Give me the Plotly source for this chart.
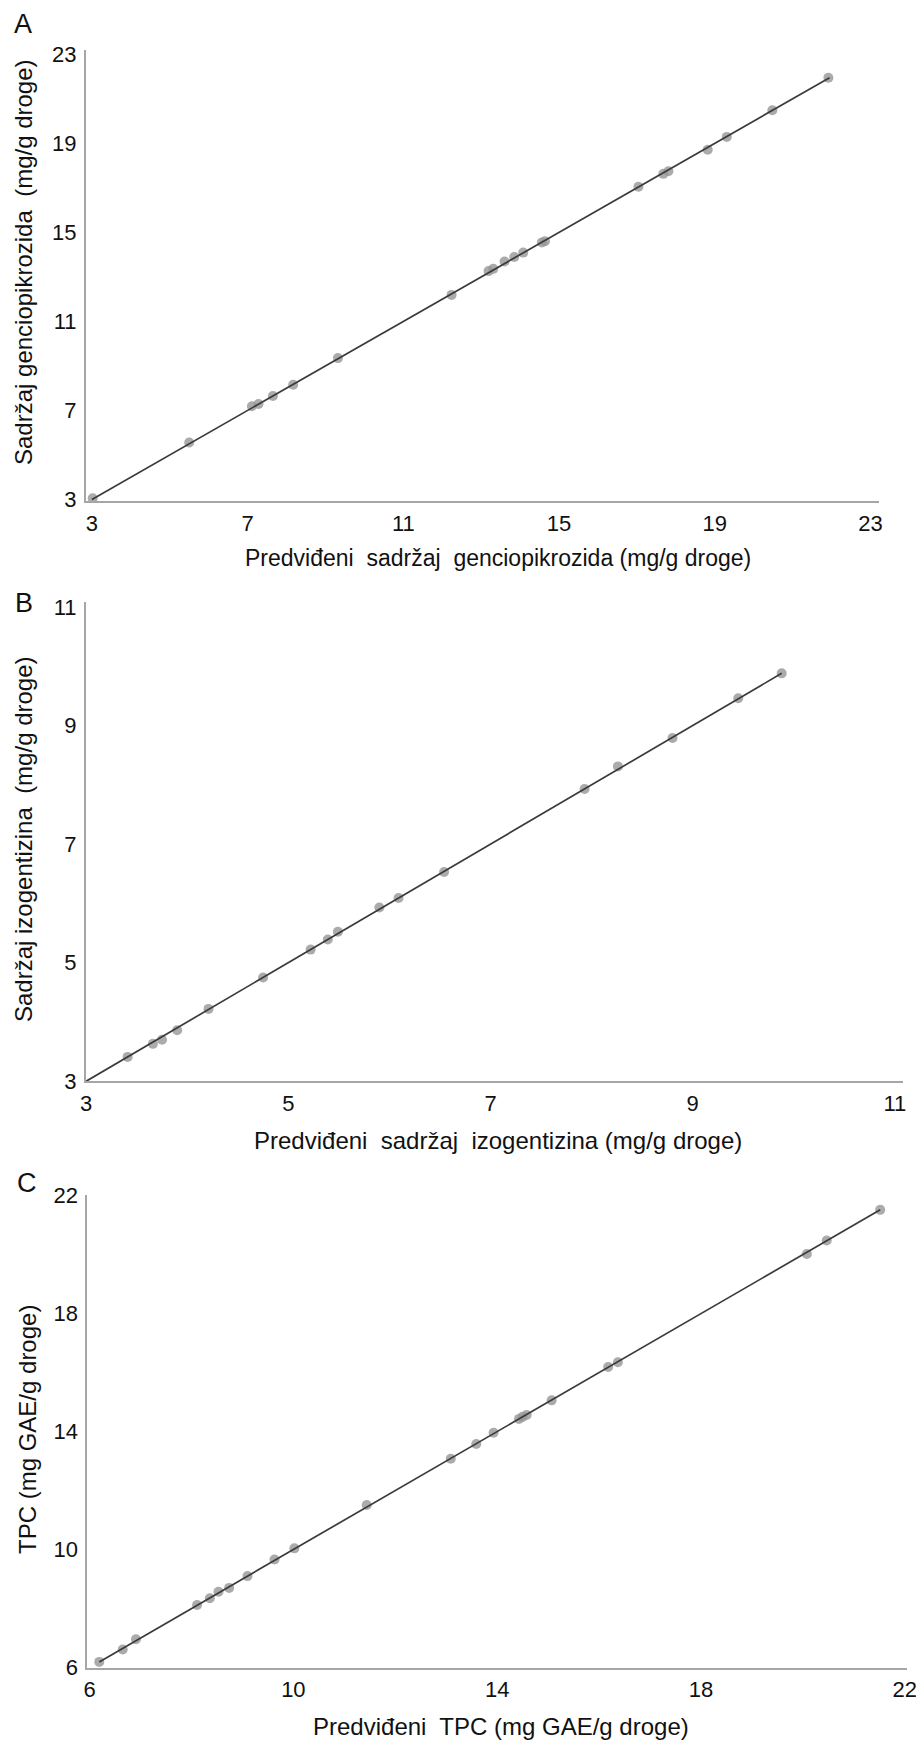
import plotly.graph_objects as go

# ---------------- data ----------------
A_pred = [3.02, 5.50, 7.11, 7.28, 7.65, 8.17, 9.32, 12.24, 13.19, 13.31, 13.60, 13.85, 14.08,
          14.56, 14.64, 17.04, 17.68, 17.81, 18.82, 19.31, 20.48, 21.92]
A_obs = [3.05, 5.56, 7.19, 7.29, 7.65, 8.15, 9.35, 12.19, 13.26, 13.36, 13.69, 13.89, 14.09,
         14.55, 14.60, 17.05, 17.63, 17.75, 18.71, 19.29, 20.49, 21.95]
A_fit = [3.0, 21.95]

B_pred = [3.41, 3.66, 3.75, 3.90, 4.21, 4.75, 5.22, 5.39, 5.49, 5.90, 6.09, 6.54, 7.93, 8.26,
          8.80, 9.45, 9.88]
B_obs = [3.41, 3.63, 3.70, 3.86, 4.22, 4.75, 5.22, 5.39, 5.52, 5.93, 6.09, 6.53, 7.93, 8.31,
         8.79, 9.46, 9.88]
B_fit = [3.0, 9.88]

C_pred = [6.19, 6.65, 6.91, 8.11, 8.36, 8.53, 8.74, 9.10, 9.63, 10.02, 11.44, 13.09, 13.59,
          13.93, 14.43, 14.50, 14.58, 15.07, 16.18, 16.37, 20.08, 20.47, 21.52]
C_obs = [6.19, 6.61, 6.96, 8.12, 8.35, 8.57, 8.70, 9.10, 9.66, 10.04, 11.51, 13.08, 13.58,
         13.96, 14.43, 14.50, 14.56, 15.06, 16.19, 16.35, 20.02, 20.48, 21.52]
C_fit = [6.19, 21.52]

A_ticks = [3, 7, 11, 15, 19, 23]
B_ticks = [3, 5, 7, 9, 11]
C_ticks = [6, 10, 14, 18, 22]

panel_letters = ["A", "B", "C"]
x_titles = ["Predviđeni\u00a0 sadržaj\u00a0 genciopikrozida (mg/g droge)",
            "Predviđeni\u00a0 sadržaj\u00a0 izogentizina (mg/g droge)",
            "Predviđeni\u00a0 TPC (mg GAE/g droge)"]
y_titles = ["Sadržaj genciopikrozida\u00a0 (mg/g droge)",
            "Sadržaj izogentizina\u00a0 (mg/g droge)",
            "TPC (mg GAE/g droge)"]

# ---------------- layout geometry ----------------
W, H = 916, 1740
FONT = "Liberation Sans, Arial, sans-serif"

def px(x):
    return x / W

def py(y):
    return 1 - y / H

panels = [
    dict(pred=A_pred, obs=A_obs, fit=A_fit, ticks=A_ticks,
         xdom=[px(86), px(879)], xr=[2.848, 23.22],
         ydom=[py(501.3), py(49.9)], yr=[2.915, 23.20],
         letter=(23, 24), xt=(498, 558), xts=23, yt=(23, 262)),
    dict(pred=B_pred, obs=B_obs, fit=B_fit, ticks=B_ticks,
         xdom=[px(86), px(903)], xr=[2.998, 11.08],
         ydom=[py(1081.2), py(602.2)], yr=[3.0, 11.08],
         letter=(24, 603), xt=(498, 1140), xts=24, yt=(23, 839)),
    dict(pred=C_pred, obs=C_obs, fit=C_fit, ticks=C_ticks,
         xdom=[px(87.3), px(906.7)], xr=[5.955, 22.04],
         ydom=[py(1667.5), py(1195.1)], yr=[6.0, 22.02],
         letter=(27, 1183), xt=(501, 1726), xts=24, yt=(27, 1430)),
]

fig = go.Figure()
annotations = []
layout_axes = {}

for i, p in enumerate(panels):
    n = "" if i == 0 else str(i + 1)
    xa, ya = "x" + n, "y" + n
    fig.add_trace(go.Scatter(
        x=p["pred"], y=p["obs"], mode="markers", xaxis=xa, yaxis=ya,
        marker=dict(size=10, color="rgba(150,150,150,0.8)", line=dict(width=0)),
        showlegend=False, hoverinfo="x+y"))
    fig.add_trace(go.Scatter(
        x=p["fit"], y=p["fit"], mode="lines", xaxis=xa, yaxis=ya,
        line=dict(color="#3a3a3a", width=1.7), showlegend=False, hoverinfo="skip"))

    axis_common = dict(
        showgrid=False, zeroline=False, showline=True, linecolor="#a6a6a6", linewidth=2,
        ticks="", tickfont=dict(family=FONT, size=22, color="#111111"),
        tickmode="array", tickvals=p["ticks"], ticktext=[str(t) for t in p["ticks"]],
        automargin=False, fixedrange=True, ticklabeloverflow="allow")
    layout_axes["xaxis" + n] = dict(axis_common, domain=p["xdom"], range=p["xr"],
                                    anchor=ya, ticklabelstandoff=1)
    layout_axes["yaxis" + n] = dict(axis_common, domain=p["ydom"], range=p["yr"],
                                    anchor=xa, ticklabelstandoff=3)

    lx, ly = p["letter"]
    annotations.append(dict(text=panel_letters[i], x=px(lx), y=py(ly), xref="paper", yref="paper",
                            showarrow=False, xanchor="center", yanchor="middle",
                            font=dict(family=FONT, size=27, color="#111111")))
    tx, ty = p["xt"]
    annotations.append(dict(text=x_titles[i], x=px(tx), y=py(ty), xref="paper", yref="paper",
                            showarrow=False, xanchor="center", yanchor="middle",
                            font=dict(family=FONT, size=p["xts"], color="#111111")))
    yx, yy = p["yt"]
    annotations.append(dict(text=y_titles[i], x=px(yx), y=py(yy), xref="paper", yref="paper",
                            showarrow=False, xanchor="center", yanchor="middle", textangle=-90,
                            font=dict(family=FONT, size=24, color="#111111")))

fig.update_layout(
    width=W, height=H, margin=dict(l=0, r=0, t=0, b=0),
    paper_bgcolor="white", plot_bgcolor="white",
    font=dict(family=FONT, color="#111111"),
    annotations=annotations, **layout_axes)

fig.write_html("out.html")
